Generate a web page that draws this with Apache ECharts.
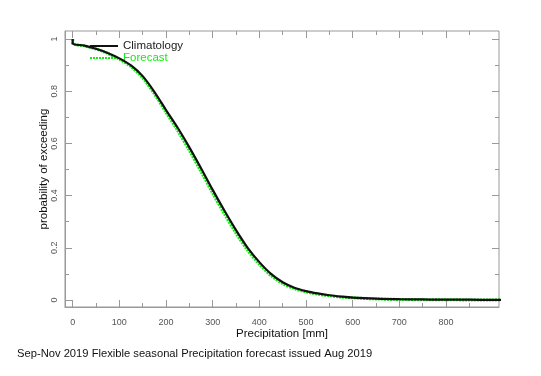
<!DOCTYPE html>
<html><head><meta charset="utf-8">
<script src="https://cdn.jsdelivr.net/npm/echarts@6/dist/echarts.min.js"></script>
<style>html,body{margin:0;padding:0;background:#fff}#c{width:541px;height:376px}</style>
</head><body><div id="c"></div>
<script>
var precip = [0, 0, 25, 50, 75, 100, 125, 150, 175, 200, 225, 250, 275, 300, 325, 350, 375, 400, 425, 450, 475, 500, 525, 550, 575, 600, 650, 700, 750, 800, 850, 900, 922];
var climatology = [1.0, 0.983, 0.975, 0.963, 0.947, 0.926, 0.899, 0.858, 0.798, 0.728, 0.660, 0.585, 0.505, 0.422, 0.343, 0.268, 0.200, 0.145, 0.100, 0.068, 0.047, 0.034, 0.025, 0.018, 0.013, 0.009, 0.005, 0.003, 0.002, 0.001, 0.001, 0.0, 0.0];
var forecast = [1.0, 0.983, 0.974, 0.962, 0.945, 0.923, 0.894, 0.851, 0.790, 0.719, 0.649, 0.573, 0.492, 0.409, 0.330, 0.256, 0.190, 0.137, 0.093, 0.063, 0.043, 0.031, 0.022, 0.016, 0.011, 0.008, 0.004, 0.002, 0.001, 0.001, 0.0, 0.0, 0.0];
var xMajorTicks = [0, 100, 200, 300, 400, 500, 600, 700, 800];
var xMinorTicks = [50, 150, 250, 350, 450, 550, 650, 750, 850];
var yMajorTicks = [0, 0.2, 0.4, 0.6, 0.8, 1];
var yMinorTicks = [0.1, 0.3, 0.5, 0.7, 0.9];
var xRange = [-16.5, 913.5];
var yRange = [-0.027, 1.031];

function pairs(xs, ys) { return xs.map(function (x, i) { return [x, ys[i]]; }); }

var gray = '#999';
var green = '#11ee11';
var FF = 'Liberation Sans';
function xAx(pos, ticks, len, labels) {
  return {
    type: 'value', position: pos, min: xRange[0], max: xRange[1],
    axisLine: { show: labels, onZero: false, lineStyle: { color: gray, width: 1 } },
    splitLine: { show: false },
    axisTick: { show: true, inside: true, length: len, customValues: ticks, lineStyle: { color: gray } },
    axisLabel: labels ? { show: true, customValues: ticks, color: '#555', fontSize: 9, margin: 11, fontFamily: FF } : { show: false },
    name: labels ? 'Precipitation [mm]' : '', nameLocation: 'middle', nameGap: 21, nameMoveOverlap: false,
    nameTextStyle: { color: '#111', fontSize: 11.5, fontFamily: FF }
  };
}
function yAx(pos, ticks, len, labels) {
  return {
    type: 'value', position: pos, min: yRange[0], max: yRange[1],
    axisLine: { show: labels, onZero: false, lineStyle: { color: gray, width: 1 } },
    splitLine: { show: false },
    axisTick: { show: true, inside: true, length: len, customValues: ticks, lineStyle: { color: gray } },
    axisLabel: labels ? { show: true, customValues: ticks, rotate: 90, color: '#555', fontSize: 9, margin: 6, fontFamily: FF } : { show: false },
    name: labels ? 'probability of exceeding' : '', nameLocation: 'middle', nameGap: 15, nameRotate: 90, nameMoveOverlap: false,
    nameTextStyle: { color: '#111', fontSize: 11.5, fontFamily: FF }
  };
}

var chart = echarts.init(document.getElementById('c'), null, { renderer: 'canvas' });
chart.setOption({
  animation: false,
  backgroundColor: '#fff',
  title: {
    text: 'Sep-Nov 2019 Flexible seasonal Precipitation forecast issued Aug 2019',
    left: 12, top: 343,
    textStyle: { color: '#111', fontSize: 11.2, fontWeight: 'normal', fontFamily: FF }
  },
  grid: { left: 65, top: 31, width: 434, height: 276, show: true, borderColor: gray, borderWidth: 1, backgroundColor: 'transparent' },
  legend: {
    orient: 'vertical', left: 84, top: 35, itemWidth: 28, itemHeight: 10, itemGap: 0,
    itemStyle: { opacity: 0 },
    textStyle: { fontSize: 11.5, lineHeight: 12, fontFamily: FF, padding: [0, 0, 0, 0] },
    data: [
      { name: 'Climatology', textStyle: { color: '#222' } },
      { name: 'Forecast', textStyle: { color: green } }
    ]
  },
  xAxis: [
    xAx('bottom', xMajorTicks, 7, true),
    xAx('bottom', xMinorTicks, 4, false),
    xAx('top', xMajorTicks, 7, false),
    xAx('top', xMinorTicks, 4, false)
  ],
  yAxis: [
    yAx('left', yMajorTicks, 7, true),
    yAx('left', yMinorTicks, 4, false),
    yAx('right', yMajorTicks, 7, false),
    yAx('right', yMinorTicks, 4, false)
  ],
  series: [
    {
      name: 'Climatology', type: 'line', xAxisIndex: 0, yAxisIndex: 0, z: 4, smooth: 0.3,
      data: pairs(precip, climatology), showSymbol: false, symbol: 'none', clip: false,
      lineStyle: { color: '#111', width: 2.2 }, itemStyle: { color: '#111' }
    },
    {
      name: 'Forecast', type: 'line', xAxisIndex: 0, yAxisIndex: 0, z: 3, smooth: 0.3,
      data: pairs(precip, forecast), showSymbol: false, symbol: 'none', clip: false,
      lineStyle: { color: green, width: 3, type: [2, 1] }, itemStyle: { color: green }
    }
  ]
});
</script></body></html>
